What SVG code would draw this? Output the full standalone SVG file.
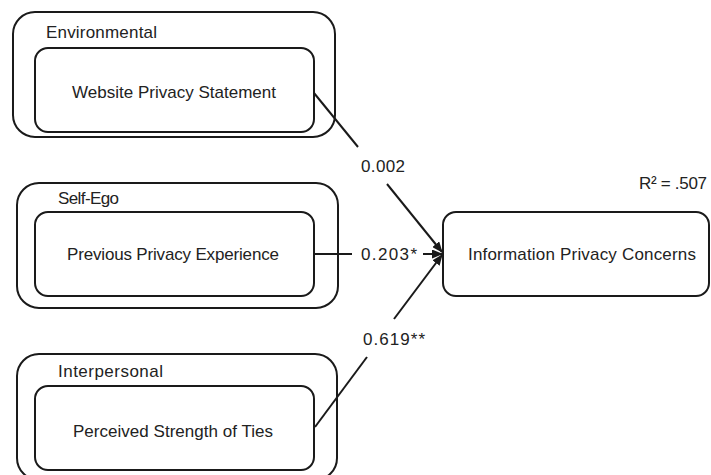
<svg xmlns="http://www.w3.org/2000/svg" width="711" height="475" viewBox="0 0 711 475">
<style>
.box{fill:#fff;stroke:#1a1a1a;stroke-width:2}
.t{font-family:"Liberation Sans",Arial,sans-serif;font-size:17px;fill:#222}
.c{stroke:#1a1a1a;stroke-width:2;fill:none}
</style>
<defs>
<marker id="ah" markerUnits="userSpaceOnUse" markerWidth="11" markerHeight="9" refX="10" refY="4.5" orient="auto">
<path d="M0,0 L11,4.5 L0,9 z" fill="#1a1a1a"/>
</marker>
</defs>
<rect width="711" height="475" fill="#fff"/>
<g id="environmental">
<rect class="box" x="13" y="12" width="322" height="125" rx="22"/>
<text class="t" x="46" y="38" textLength="111">Environmental</text>
</g>
<g id="website-privacy-statement">
<rect class="box" x="35" y="48" width="279" height="84" rx="13"/>
<text class="t" x="72" y="98" textLength="204">Website Privacy Statement</text>
</g>
<g id="self-ego">
<rect class="box" x="17" y="183" width="321" height="125" rx="22"/>
<text class="t" x="58" y="204" textLength="61">Self-Ego</text>
</g>
<g id="previous-privacy-experience">
<rect class="box" x="35" y="212" width="279" height="84" rx="13"/>
<text class="t" x="67" y="260" textLength="212">Previous Privacy Experience</text>
</g>
<g id="interpersonal">
<rect class="box" x="17" y="354" width="320" height="126" rx="22"/>
<text class="t" x="58" y="377" textLength="105">Interpersonal</text>
</g>
<g id="perceived-strength-of-ties">
<rect class="box" x="35" y="386" width="279" height="84" rx="13"/>
<text class="t" x="73" y="437" textLength="200">Perceived Strength of Ties</text>
</g>
<g id="information-privacy-concerns">
<rect class="box" x="443" y="212" width="266" height="84" rx="13"/>
<text class="t" x="468" y="260" textLength="228">Information Privacy Concerns</text>
<text class="t" x="639" y="189" textLength="68">R² = .507</text>
</g>
<g id="connectors">
<line class="c" x1="314" y1="93" x2="358" y2="147"/>
<line class="c" x1="387" y1="184" x2="442" y2="252" marker-end="url(#ah)"/>
<line class="c" x1="314" y1="254" x2="352" y2="254"/>
<line class="c" x1="423" y1="254" x2="442" y2="254" marker-end="url(#ah)"/>
<line class="c" x1="315" y1="427" x2="367" y2="357"/>
<line class="c" x1="394" y1="319" x2="442" y2="255" marker-end="url(#ah)"/>
<text class="t" x="361" y="172" textLength="44">0.002</text>
<text class="t" x="361" y="260" textLength="56">0.203*</text>
<text class="t" x="363" y="345" textLength="62">0.619**</text>
</g>
</svg>
